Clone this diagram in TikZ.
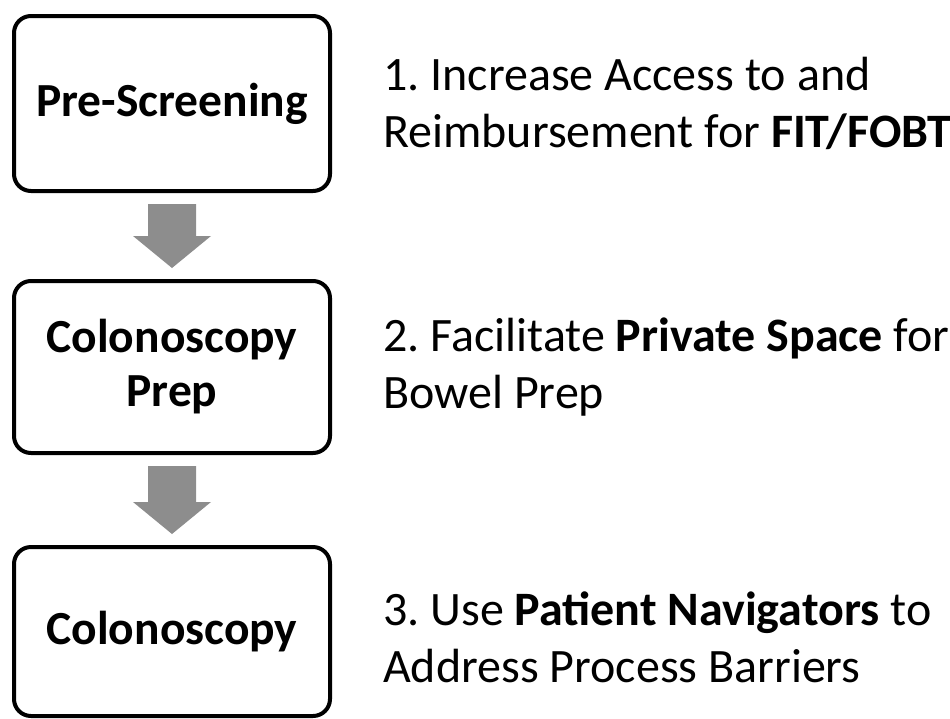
\documentclass[tikz,border=0pt]{standalone}
\usepackage{fontspec}
\setmainfont{Carlito}
\frenchspacing
\usetikzlibrary{calc}
\definecolor{arrowgray}{RGB}{141,141,141}
\newcommand\blockarrow[2]{%
  \fill[arrowgray] let \p1=(#1.south), \p2=(#2.north) in
    (\x1-24pt,\y1-13pt) -- (\x1+24pt,\y1-13pt) -- (\x1+24pt,\y2+45pt) --
    (\x1+39pt,\y2+45pt) -- (\x1,\y2+13pt) -- (\x1-39pt,\y2+45pt) --
    (\x1-24pt,\y2+45pt) -- cycle;}
\begin{document}
\begin{tikzpicture}[x=1pt,y=-1pt,
  stepbox/.style={draw=black, line width=4pt, rounded corners=17pt,
    minimum width=316pt, align=center, inner sep=0pt, outer sep=0pt,
    font=\fontsize{47.5}{54}\selectfont\bfseries},
  note/.style={anchor=west, align=left, inner sep=0pt,
    font=\fontsize{48}{57}\selectfont}]
\useasboundingbox (0,0) rectangle (950,718);
\node[stepbox, minimum height=175pt] (b1) at (172,103.5) {Pre-Screening};
\node[stepbox, minimum height=172pt] (b2) at (172,367) {Colonoscopy\\Prep};
\node[stepbox, minimum height=169pt] (b3) at (172,631.5) {Colonoscopy};
\blockarrow{b1}{b2}
\blockarrow{b2}{b3}
\node[note] (t1) at (383,103.5) {1. Increase Access to and\\Reimbursement for \textbf{FIT/FOBT}};
\node[note] (t2) at (383,367) {2. Facilitate \textbf{Private Space} for\\Bowel Prep};
\node[note] (t3) at (383,637) {3. Use \textbf{Patient Navigators} to\\Address Process Barriers};
\end{tikzpicture}
\end{document}
